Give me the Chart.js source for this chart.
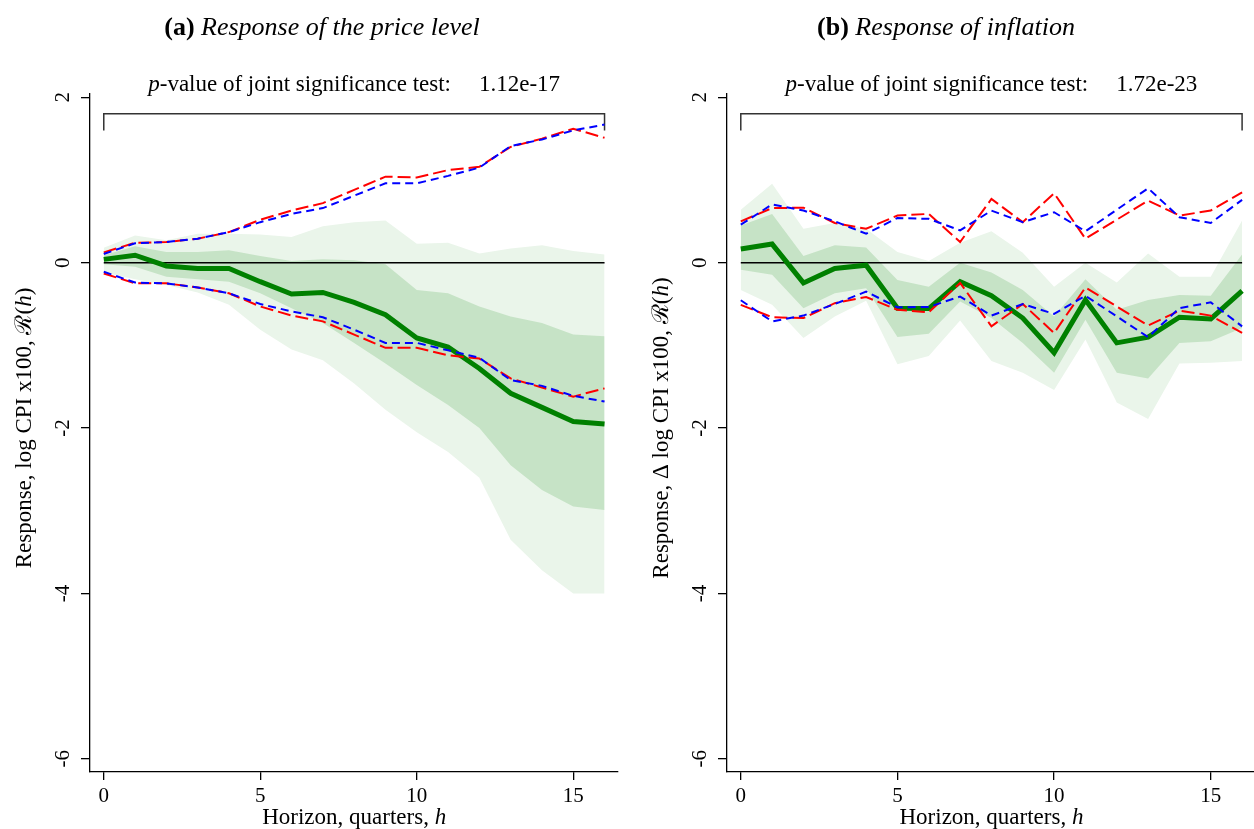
<!DOCTYPE html>
<html>
<head>
<meta charset="utf-8">
<script src="https://cdn.jsdelivr.net/npm/chart.js@4/dist/chart.umd.min.js"></script>
<style>
  html, body { margin: 0; padding: 0; background: #fff; }
  .panel { position: absolute; top: 0; width: 627px; height: 829px; }
</style>
</head>
<body>
<div class="panel" style="left:0"><canvas id="chart-a" width="627" height="829"></canvas></div>
<div class="panel" style="left:627px"><canvas id="chart-b" width="627" height="829"></canvas></div>
<script>
const horizons = [0, 1, 2, 3, 4, 5, 6, 7, 8, 9, 10, 11, 12, 13, 14, 15, 16];
const xTicks = [0, 5, 10, 15];
const yTicks = [-6, -4, -2, 0, 2];
const zeroH = [0, 16];
const zeroY = [0, 0];
const bracketH = [0, 0, 16, 16];
const bracketY = [1.6, 1.8, 1.8, 1.6];

// (a) price level
const levelIrf      = [0.04, 0.09, -0.04, -0.07, -0.07, -0.23, -0.38, -0.36, -0.48, -0.63, -0.91, -1.02, -1.28, -1.58, -1.75, -1.92, -1.95];
const levelRedUp    = [0.125, 0.24, 0.25, 0.29, 0.37, 0.52, 0.63, 0.72, 0.88, 1.04, 1.03, 1.12, 1.16, 1.40, 1.50, 1.62, 1.51];
const levelRedLo    = [-0.13, -0.25, -0.25, -0.30, -0.37, -0.53, -0.64, -0.71, -0.87, -1.03, -1.03, -1.12, -1.16, -1.40, -1.51, -1.62, -1.52];
const levelBlueUp   = [0.105, 0.235, 0.25, 0.29, 0.37, 0.49, 0.59, 0.66, 0.81, 0.96, 0.96, 1.05, 1.15, 1.41, 1.49, 1.60, 1.67];
const levelBlueLo   = [-0.11, -0.24, -0.25, -0.30, -0.37, -0.50, -0.59, -0.66, -0.81, -0.97, -0.97, -1.06, -1.15, -1.42, -1.49, -1.61, -1.68];
const levelBand68Up = [0.09, 0.20, 0.13, 0.13, 0.15, 0.08, 0.02, 0.04, 0.03, -0.02, -0.33, -0.37, -0.53, -0.65, -0.73, -0.87, -0.89];
const levelBand68Lo = [-0.02, -0.05, -0.17, -0.20, -0.23, -0.37, -0.55, -0.73, -0.97, -1.22, -1.48, -1.72, -2.00, -2.45, -2.75, -2.95, -2.99];
const levelBand90Up = [0.18, 0.33, 0.27, 0.35, 0.35, 0.34, 0.31, 0.44, 0.49, 0.51, 0.23, 0.24, 0.11, 0.17, 0.21, 0.14, 0.10];
const levelBand90Lo = [-0.12, -0.20, -0.27, -0.36, -0.51, -0.81, -1.05, -1.18, -1.46, -1.78, -2.05, -2.29, -2.60, -3.35, -3.72, -4.00, -4.00];

// (b) inflation
const inflIrf      = [0.165, 0.225, -0.245, -0.07, -0.03, -0.55, -0.555, -0.23, -0.40, -0.67, -1.09, -0.45, -0.97, -0.90, -0.66, -0.68, -0.34];
const inflRedUp    = [0.50, 0.66, 0.665, 0.48, 0.41, 0.57, 0.59, 0.25, 0.77, 0.49, 0.84, 0.29, 0.52, 0.75, 0.57, 0.63, 0.85];
const inflRedLo    = [-0.51, -0.66, -0.67, -0.49, -0.415, -0.57, -0.60, -0.245, -0.77, -0.50, -0.85, -0.30, -0.53, -0.76, -0.58, -0.64, -0.85];
const inflBlueUp   = [0.46, 0.705, 0.63, 0.50, 0.35, 0.54, 0.53, 0.39, 0.63, 0.49, 0.61, 0.38, 0.64, 0.90, 0.55, 0.48, 0.76];
const inflBlueLo   = [-0.455, -0.71, -0.64, -0.50, -0.35, -0.54, -0.535, -0.41, -0.64, -0.50, -0.62, -0.40, -0.65, -0.90, -0.55, -0.48, -0.77];
const inflBand68Up = [0.45, 0.59, 0.08, 0.21, 0.185, -0.21, -0.29, 0.0, -0.12, -0.33, -0.65, -0.20, -0.57, -0.45, -0.39, -0.40, 0.10];
const inflBand68Lo = [-0.085, -0.145, -0.55, -0.37, -0.31, -0.90, -0.86, -0.47, -0.67, -0.97, -1.33, -0.69, -1.33, -1.40, -0.97, -0.95, -0.79];
const inflBand90Up = [0.64, 0.955, 0.41, 0.48, 0.41, 0.13, 0.02, 0.24, 0.38, 0.12, -0.29, 0.0, -0.24, 0.11, -0.17, -0.17, 0.51];
const inflBand90Lo = [-0.33, -0.51, -0.91, -0.65, -0.46, -1.23, -1.13, -0.70, -1.19, -1.33, -1.54, -0.93, -1.69, -1.89, -1.22, -1.21, -1.19];

const SERIF = '"Liberation Serif", "Times New Roman", serif';
const GREEN = 'rgb(0,128,0)';
const BAND68 = 'rgb(198,227,198)';
const BAND90 = 'rgb(234,245,234)';

const pts = (ys, xs = horizons) => ys.map((y, i) => ({ x: xs[i], y }));

function drawRuns(ctx, runs, cx, cy) {
  let total = 0;
  runs.forEach(r => { ctx.font = r.font; r.w = ctx.measureText(r.t).width + (r.gap || 0); total += r.w; });
  let x = cx - total / 2;
  ctx.textAlign = 'left';
  ctx.textBaseline = 'middle';
  runs.forEach(r => { ctx.font = r.font; ctx.fillText(r.t, x + (r.gap || 0), cy); x += r.w; });
}

const panelText = {
  id: 'panelText',
  afterDraw(chart, args, o) {
    const ctx = chart.ctx, xs = chart.scales.x, ys = chart.scales.y, area = chart.chartArea;
    const reg = s => `${s}px ${SERIF}`;
    const ital = s => `italic ${s}px ${SERIF}`;
    ctx.save();
    ctx.fillStyle = '#000';

    drawRuns(ctx, [
      { t: o.tag + ' ', font: `bold 26px ${SERIF}` },
      { t: o.title, font: ital(26) }
    ], o.titleX, 28);

    drawRuns(ctx, [
      { t: 'p', font: ital(23) },
      { t: '-value of joint significance test:', font: reg(23) },
      { t: o.pValue, font: reg(23), gap: 28 }
    ], xs.getPixelForValue(8), 85);

    yTicks.forEach(v => {
      ctx.save();
      ctx.translate(area.left - 27, ys.getPixelForValue(v));
      ctx.rotate(-Math.PI / 2);
      ctx.font = reg(21);
      ctx.textAlign = 'center';
      ctx.textBaseline = 'middle';
      ctx.fillText(String(v), 0, 0);
      ctx.restore();
    });

    ctx.save();
    ctx.translate(o.yTitleX, ys.getPixelForValue(-2));
    ctx.rotate(-Math.PI / 2);
    drawRuns(ctx, [
      { t: o.yTitle, font: reg(23) },
      { t: 'ℛ(', font: reg(23) },
      { t: 'h', font: ital(23) },
      { t: ')', font: reg(23) }
    ], 0, 0);
    ctx.restore();

    drawRuns(ctx, [
      { t: 'Horizon, quarters, ', font: reg(23) },
      { t: 'h', font: ital(23) }
    ], xs.getPixelForValue(8), 818);

    ctx.restore();
  }
};

function makePanel(id, cfg) {
  const axisLine = { display: true, color: '#000', width: 1.3 };
  const tickGrid = len => ({ display: true, drawOnChartArea: false, drawTicks: true, tickLength: len, color: '#000', lineWidth: 1.3 });
  const line = (ys, color, width, dash) => ({
    data: pts(ys), borderColor: color, borderWidth: width, borderDash: dash || [],
    pointRadius: 0, fill: false, tension: 0
  });
  const band = (ys, fill, color) => ({
    data: pts(ys), borderWidth: 0, pointRadius: 0, fill, backgroundColor: color, tension: 0
  });

  return new Chart(document.getElementById(id), {
    type: 'line',
    data: {
      datasets: [
        line(cfg.blueUp, 'rgb(0,0,255)', 2, [8, 5]),
        line(cfg.blueLo, 'rgb(0,0,255)', 2, [8, 5]),
        line(cfg.redUp, 'rgb(255,0,0)', 2, [13, 5]),
        line(cfg.redLo, 'rgb(255,0,0)', 2, [13, 5]),
        line(cfg.irf, GREEN, 5),
        { data: pts(zeroY, zeroH), borderColor: '#000', borderWidth: 1.5, pointRadius: 0, fill: false },
        { data: pts(bracketY, bracketH), borderColor: '#333', borderWidth: 1.5, pointRadius: 0, fill: false },
        band(cfg.band68Up, '+1', BAND68),
        band(cfg.band68Lo, false, BAND68),
        band(cfg.band90Up, '+1', BAND90),
        band(cfg.band90Lo, false, BAND90)
      ]
    },
    options: {
      responsive: false,
      animation: false,
      events: [],
      layout: { padding: { top: 94, right: cfg.padRight, left: 0, bottom: 0 } },
      plugins: {
        legend: { display: false },
        tooltip: { enabled: false },
        panelText: cfg.text
      },
      scales: {
        x: {
          type: 'linear', min: -0.44, max: cfg.xMax,
          afterBuildTicks: s => { s.ticks = xTicks.map(v => ({ value: v })); },
          afterFit: s => { s.height = 57; },
          grid: tickGrid(8),
          border: axisLine,
          ticks: { color: '#000', font: { family: SERIF, size: 21 }, padding: 4, minRotation: 0, maxRotation: 0 }
        },
        y: {
          type: 'linear', min: -6.16, max: 2.04,
          afterBuildTicks: s => { s.ticks = yTicks.map(v => ({ value: v })); },
          afterFit: s => { s.width = cfg.yWidth; },
          grid: tickGrid(9),
          border: axisLine,
          ticks: { display: false }
        }
      }
    },
    plugins: [panelText]
  });
}

makePanel('chart-a', {
  irf: levelIrf, redUp: levelRedUp, redLo: levelRedLo, blueUp: levelBlueUp, blueLo: levelBlueLo,
  band68Up: levelBand68Up, band68Lo: levelBand68Lo, band90Up: levelBand90Up, band90Lo: levelBand90Lo,
  yWidth: 90, padRight: 9, xMax: 16.43,
  text: { tag: '(a)', title: 'Response of the price level', titleX: 322, pValue: '1.12e-17',
          yTitle: 'Response, log CPI x100, ', yTitleX: 25 }
});

makePanel('chart-b', {
  irf: inflIrf, redUp: inflRedUp, redLo: inflRedLo, blueUp: inflBlueUp, blueLo: inflBlueLo,
  band68Up: inflBand68Up, band68Lo: inflBand68Lo, band90Up: inflBand90Up, band90Lo: inflBand90Lo,
  yWidth: 100, padRight: 0, xMax: 16.38,
  text: { tag: '(b)', title: 'Response of inflation', titleX: 319, pValue: '1.72e-23',
          yTitle: 'Response, Δ log CPI x100, ', yTitleX: 35 }
});
</script>
</body>
</html>
